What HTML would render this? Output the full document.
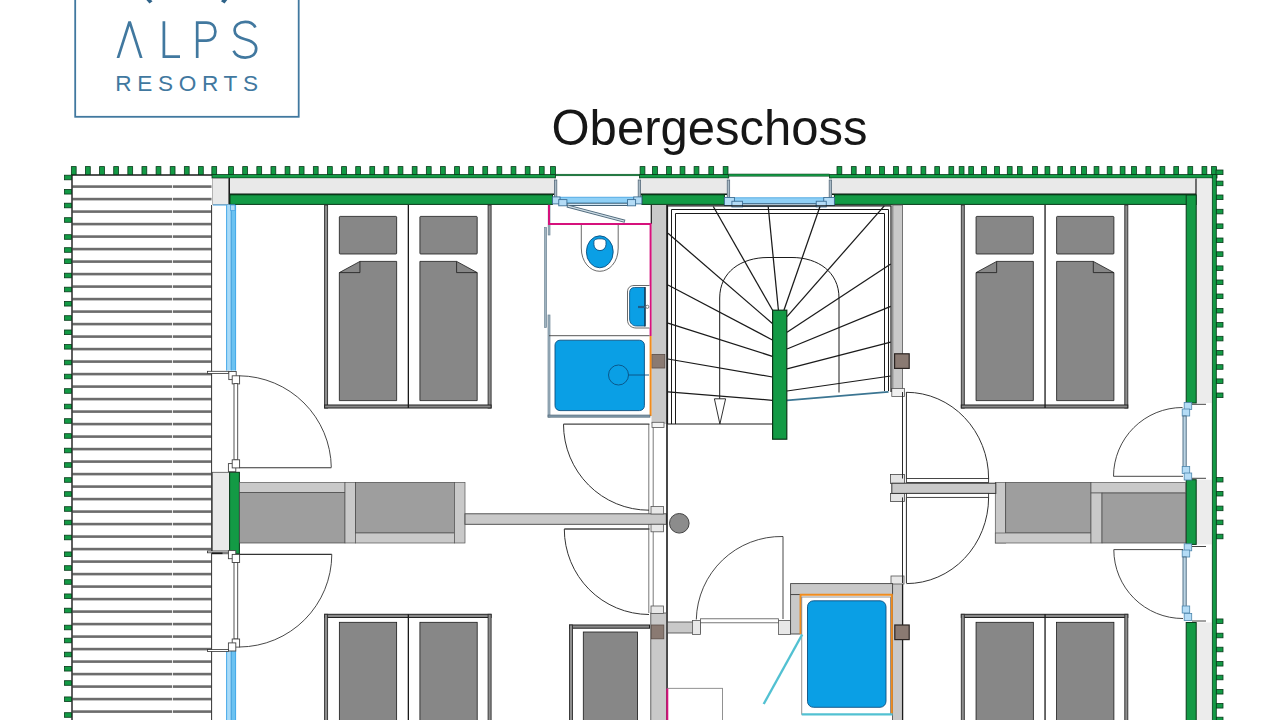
<!DOCTYPE html>
<html><head><meta charset="utf-8"><title>Obergeschoss</title>
<style>
html,body{margin:0;padding:0;background:#fff;}
body{width:1280px;height:720px;overflow:hidden;font-family:"Liberation Sans",sans-serif;}
svg{display:block;}
</style></head><body>
<svg width="1280" height="720" viewBox="0 0 1280 720">
<rect x="0" y="0" width="1280" height="720" fill="#ffffff"/>
<rect x="72.50" y="185.30" width="139.00" height="2.60" fill="#6c6c6c" stroke="none" stroke-width="1" />
<rect x="72.50" y="197.80" width="139.00" height="2.60" fill="#6c6c6c" stroke="none" stroke-width="1" />
<rect x="72.50" y="210.30" width="139.00" height="2.60" fill="#6c6c6c" stroke="none" stroke-width="1" />
<rect x="72.50" y="222.80" width="139.00" height="2.60" fill="#6c6c6c" stroke="none" stroke-width="1" />
<rect x="72.50" y="235.30" width="139.00" height="2.60" fill="#6c6c6c" stroke="none" stroke-width="1" />
<rect x="72.50" y="247.80" width="139.00" height="2.60" fill="#6c6c6c" stroke="none" stroke-width="1" />
<rect x="72.50" y="260.30" width="139.00" height="2.60" fill="#6c6c6c" stroke="none" stroke-width="1" />
<rect x="72.50" y="272.80" width="139.00" height="2.60" fill="#6c6c6c" stroke="none" stroke-width="1" />
<rect x="72.50" y="285.30" width="139.00" height="2.60" fill="#6c6c6c" stroke="none" stroke-width="1" />
<rect x="72.50" y="297.80" width="139.00" height="2.60" fill="#6c6c6c" stroke="none" stroke-width="1" />
<rect x="72.50" y="310.30" width="139.00" height="2.60" fill="#6c6c6c" stroke="none" stroke-width="1" />
<rect x="72.50" y="322.80" width="139.00" height="2.60" fill="#6c6c6c" stroke="none" stroke-width="1" />
<rect x="72.50" y="335.30" width="139.00" height="2.60" fill="#6c6c6c" stroke="none" stroke-width="1" />
<rect x="72.50" y="347.80" width="139.00" height="2.60" fill="#6c6c6c" stroke="none" stroke-width="1" />
<rect x="72.50" y="360.30" width="139.00" height="2.60" fill="#6c6c6c" stroke="none" stroke-width="1" />
<rect x="72.50" y="372.80" width="139.00" height="2.60" fill="#6c6c6c" stroke="none" stroke-width="1" />
<rect x="72.50" y="385.30" width="139.00" height="2.60" fill="#6c6c6c" stroke="none" stroke-width="1" />
<rect x="72.50" y="397.80" width="139.00" height="2.60" fill="#6c6c6c" stroke="none" stroke-width="1" />
<rect x="72.50" y="410.30" width="139.00" height="2.60" fill="#6c6c6c" stroke="none" stroke-width="1" />
<rect x="72.50" y="422.80" width="139.00" height="2.60" fill="#6c6c6c" stroke="none" stroke-width="1" />
<rect x="72.50" y="435.30" width="139.00" height="2.60" fill="#6c6c6c" stroke="none" stroke-width="1" />
<rect x="72.50" y="447.80" width="139.00" height="2.60" fill="#6c6c6c" stroke="none" stroke-width="1" />
<rect x="72.50" y="460.30" width="139.00" height="2.60" fill="#6c6c6c" stroke="none" stroke-width="1" />
<rect x="72.50" y="472.80" width="139.00" height="2.60" fill="#6c6c6c" stroke="none" stroke-width="1" />
<rect x="72.50" y="485.30" width="139.00" height="2.60" fill="#6c6c6c" stroke="none" stroke-width="1" />
<rect x="72.50" y="497.80" width="139.00" height="2.60" fill="#6c6c6c" stroke="none" stroke-width="1" />
<rect x="72.50" y="510.30" width="139.00" height="2.60" fill="#6c6c6c" stroke="none" stroke-width="1" />
<rect x="72.50" y="522.80" width="139.00" height="2.60" fill="#6c6c6c" stroke="none" stroke-width="1" />
<rect x="72.50" y="535.30" width="139.00" height="2.60" fill="#6c6c6c" stroke="none" stroke-width="1" />
<rect x="72.50" y="547.80" width="139.00" height="2.60" fill="#6c6c6c" stroke="none" stroke-width="1" />
<rect x="72.50" y="560.30" width="139.00" height="2.60" fill="#6c6c6c" stroke="none" stroke-width="1" />
<rect x="72.50" y="572.80" width="139.00" height="2.60" fill="#6c6c6c" stroke="none" stroke-width="1" />
<rect x="72.50" y="585.30" width="139.00" height="2.60" fill="#6c6c6c" stroke="none" stroke-width="1" />
<rect x="72.50" y="597.80" width="139.00" height="2.60" fill="#6c6c6c" stroke="none" stroke-width="1" />
<rect x="72.50" y="610.30" width="139.00" height="2.60" fill="#6c6c6c" stroke="none" stroke-width="1" />
<rect x="72.50" y="622.80" width="139.00" height="2.60" fill="#6c6c6c" stroke="none" stroke-width="1" />
<rect x="72.50" y="635.30" width="139.00" height="2.60" fill="#6c6c6c" stroke="none" stroke-width="1" />
<rect x="72.50" y="647.80" width="139.00" height="2.60" fill="#6c6c6c" stroke="none" stroke-width="1" />
<rect x="72.50" y="660.30" width="139.00" height="2.60" fill="#6c6c6c" stroke="none" stroke-width="1" />
<rect x="72.50" y="672.80" width="139.00" height="2.60" fill="#6c6c6c" stroke="none" stroke-width="1" />
<rect x="72.50" y="685.30" width="139.00" height="2.60" fill="#6c6c6c" stroke="none" stroke-width="1" />
<rect x="72.50" y="697.80" width="139.00" height="2.60" fill="#6c6c6c" stroke="none" stroke-width="1" />
<rect x="72.50" y="710.30" width="139.00" height="2.60" fill="#6c6c6c" stroke="none" stroke-width="1" />
<line x1="172.50" y1="178.00" x2="172.50" y2="720.00" stroke="#ffffff" stroke-width="0.8" />
<line x1="72.00" y1="174.00" x2="72.00" y2="720.00" stroke="#1a1a1a" stroke-width="1.4" />
<line x1="72.00" y1="175.00" x2="212.00" y2="175.00" stroke="#1a1a1a" stroke-width="1.4" />
<line x1="211.60" y1="205.00" x2="211.60" y2="720.00" stroke="#333" stroke-width="1" />
<rect x="64.50" y="175.20" width="7.00" height="4.60" fill="#139a45" stroke="#083a19" stroke-width="0.8" />
<rect x="64.50" y="189.45" width="7.00" height="4.60" fill="#139a45" stroke="#083a19" stroke-width="0.8" />
<rect x="64.50" y="203.20" width="7.00" height="4.60" fill="#139a45" stroke="#083a19" stroke-width="0.8" />
<rect x="64.50" y="217.70" width="7.00" height="4.60" fill="#139a45" stroke="#083a19" stroke-width="0.8" />
<rect x="64.50" y="234.70" width="7.00" height="4.60" fill="#139a45" stroke="#083a19" stroke-width="0.8" />
<rect x="64.50" y="247.70" width="7.00" height="4.60" fill="#139a45" stroke="#083a19" stroke-width="0.8" />
<rect x="64.50" y="258.95" width="7.00" height="4.60" fill="#139a45" stroke="#083a19" stroke-width="0.8" />
<rect x="64.50" y="273.20" width="7.00" height="4.60" fill="#139a45" stroke="#083a19" stroke-width="0.8" />
<rect x="64.50" y="287.20" width="7.00" height="4.60" fill="#139a45" stroke="#083a19" stroke-width="0.8" />
<rect x="64.50" y="301.45" width="7.00" height="4.60" fill="#139a45" stroke="#083a19" stroke-width="0.8" />
<rect x="64.50" y="315.70" width="7.00" height="4.60" fill="#139a45" stroke="#083a19" stroke-width="0.8" />
<rect x="64.50" y="330.00" width="7.00" height="4.60" fill="#139a45" stroke="#083a19" stroke-width="0.8" />
<rect x="64.50" y="344.50" width="7.00" height="4.60" fill="#139a45" stroke="#083a19" stroke-width="0.8" />
<rect x="64.50" y="360.20" width="7.00" height="4.60" fill="#139a45" stroke="#083a19" stroke-width="0.8" />
<rect x="64.50" y="374.20" width="7.00" height="4.60" fill="#139a45" stroke="#083a19" stroke-width="0.8" />
<rect x="64.50" y="388.70" width="7.00" height="4.60" fill="#139a45" stroke="#083a19" stroke-width="0.8" />
<rect x="64.50" y="404.20" width="7.00" height="4.60" fill="#139a45" stroke="#083a19" stroke-width="0.8" />
<rect x="64.50" y="418.70" width="7.00" height="4.60" fill="#139a45" stroke="#083a19" stroke-width="0.8" />
<rect x="64.50" y="433.70" width="7.00" height="4.60" fill="#139a45" stroke="#083a19" stroke-width="0.8" />
<rect x="64.50" y="448.20" width="7.00" height="4.60" fill="#139a45" stroke="#083a19" stroke-width="0.8" />
<rect x="64.50" y="462.70" width="7.00" height="4.60" fill="#139a45" stroke="#083a19" stroke-width="0.8" />
<rect x="64.50" y="477.70" width="7.00" height="4.60" fill="#139a45" stroke="#083a19" stroke-width="0.8" />
<rect x="64.50" y="491.70" width="7.00" height="4.60" fill="#139a45" stroke="#083a19" stroke-width="0.8" />
<rect x="64.50" y="506.70" width="7.00" height="4.60" fill="#139a45" stroke="#083a19" stroke-width="0.8" />
<rect x="64.50" y="520.20" width="7.00" height="4.60" fill="#139a45" stroke="#083a19" stroke-width="0.8" />
<rect x="64.50" y="535.20" width="7.00" height="4.60" fill="#139a45" stroke="#083a19" stroke-width="0.8" />
<rect x="64.50" y="551.95" width="7.00" height="4.60" fill="#139a45" stroke="#083a19" stroke-width="0.8" />
<rect x="64.50" y="565.70" width="7.00" height="4.60" fill="#139a45" stroke="#083a19" stroke-width="0.8" />
<rect x="64.50" y="579.70" width="7.00" height="4.60" fill="#139a45" stroke="#083a19" stroke-width="0.8" />
<rect x="64.50" y="593.95" width="7.00" height="4.60" fill="#139a45" stroke="#083a19" stroke-width="0.8" />
<rect x="64.50" y="608.20" width="7.00" height="4.60" fill="#139a45" stroke="#083a19" stroke-width="0.8" />
<rect x="64.50" y="625.20" width="7.00" height="4.60" fill="#139a45" stroke="#083a19" stroke-width="0.8" />
<rect x="64.50" y="638.20" width="7.00" height="4.60" fill="#139a45" stroke="#083a19" stroke-width="0.8" />
<rect x="64.50" y="652.20" width="7.00" height="4.60" fill="#139a45" stroke="#083a19" stroke-width="0.8" />
<rect x="64.50" y="666.45" width="7.00" height="4.60" fill="#139a45" stroke="#083a19" stroke-width="0.8" />
<rect x="64.50" y="680.70" width="7.00" height="4.60" fill="#139a45" stroke="#083a19" stroke-width="0.8" />
<rect x="64.50" y="696.95" width="7.00" height="4.60" fill="#139a45" stroke="#083a19" stroke-width="0.8" />
<rect x="64.50" y="712.70" width="7.00" height="4.60" fill="#139a45" stroke="#083a19" stroke-width="0.8" />
<rect x="71.35" y="166.60" width="4.80" height="8.00" fill="#139a45" stroke="#083a19" stroke-width="0.8" />
<rect x="85.47" y="166.60" width="4.80" height="8.00" fill="#139a45" stroke="#083a19" stroke-width="0.8" />
<rect x="99.60" y="166.60" width="4.80" height="8.00" fill="#139a45" stroke="#083a19" stroke-width="0.8" />
<rect x="113.72" y="166.60" width="4.80" height="8.00" fill="#139a45" stroke="#083a19" stroke-width="0.8" />
<rect x="127.85" y="166.60" width="4.80" height="8.00" fill="#139a45" stroke="#083a19" stroke-width="0.8" />
<rect x="141.97" y="166.60" width="4.80" height="8.00" fill="#139a45" stroke="#083a19" stroke-width="0.8" />
<rect x="156.10" y="166.60" width="4.80" height="8.00" fill="#139a45" stroke="#083a19" stroke-width="0.8" />
<rect x="170.22" y="166.60" width="4.80" height="8.00" fill="#139a45" stroke="#083a19" stroke-width="0.8" />
<rect x="184.35" y="166.60" width="4.80" height="8.00" fill="#139a45" stroke="#083a19" stroke-width="0.8" />
<rect x="198.47" y="166.60" width="4.80" height="8.00" fill="#139a45" stroke="#083a19" stroke-width="0.8" />
<rect x="211.85" y="166.60" width="4.80" height="8.00" fill="#139a45" stroke="#083a19" stroke-width="0.8" />
<rect x="228.60" y="166.60" width="4.80" height="8.00" fill="#139a45" stroke="#083a19" stroke-width="0.8" />
<rect x="242.72" y="166.60" width="4.80" height="8.00" fill="#139a45" stroke="#083a19" stroke-width="0.8" />
<rect x="256.85" y="166.60" width="4.80" height="8.00" fill="#139a45" stroke="#083a19" stroke-width="0.8" />
<rect x="270.98" y="166.60" width="4.80" height="8.00" fill="#139a45" stroke="#083a19" stroke-width="0.8" />
<rect x="285.10" y="166.60" width="4.80" height="8.00" fill="#139a45" stroke="#083a19" stroke-width="0.8" />
<rect x="299.23" y="166.60" width="4.80" height="8.00" fill="#139a45" stroke="#083a19" stroke-width="0.8" />
<rect x="313.35" y="166.60" width="4.80" height="8.00" fill="#139a45" stroke="#083a19" stroke-width="0.8" />
<rect x="327.48" y="166.60" width="4.80" height="8.00" fill="#139a45" stroke="#083a19" stroke-width="0.8" />
<rect x="341.60" y="166.60" width="4.80" height="8.00" fill="#139a45" stroke="#083a19" stroke-width="0.8" />
<rect x="355.73" y="166.60" width="4.80" height="8.00" fill="#139a45" stroke="#083a19" stroke-width="0.8" />
<rect x="369.85" y="166.60" width="4.80" height="8.00" fill="#139a45" stroke="#083a19" stroke-width="0.8" />
<rect x="383.98" y="166.60" width="4.80" height="8.00" fill="#139a45" stroke="#083a19" stroke-width="0.8" />
<rect x="398.10" y="166.60" width="4.80" height="8.00" fill="#139a45" stroke="#083a19" stroke-width="0.8" />
<rect x="412.23" y="166.60" width="4.80" height="8.00" fill="#139a45" stroke="#083a19" stroke-width="0.8" />
<rect x="426.35" y="166.60" width="4.80" height="8.00" fill="#139a45" stroke="#083a19" stroke-width="0.8" />
<rect x="440.48" y="166.60" width="4.80" height="8.00" fill="#139a45" stroke="#083a19" stroke-width="0.8" />
<rect x="454.60" y="166.60" width="4.80" height="8.00" fill="#139a45" stroke="#083a19" stroke-width="0.8" />
<rect x="468.73" y="166.60" width="4.80" height="8.00" fill="#139a45" stroke="#083a19" stroke-width="0.8" />
<rect x="482.85" y="166.60" width="4.80" height="8.00" fill="#139a45" stroke="#083a19" stroke-width="0.8" />
<rect x="496.98" y="166.60" width="4.80" height="8.00" fill="#139a45" stroke="#083a19" stroke-width="0.8" />
<rect x="511.10" y="166.60" width="4.80" height="8.00" fill="#139a45" stroke="#083a19" stroke-width="0.8" />
<rect x="525.23" y="166.60" width="4.80" height="8.00" fill="#139a45" stroke="#083a19" stroke-width="0.8" />
<rect x="539.35" y="166.60" width="4.80" height="8.00" fill="#139a45" stroke="#083a19" stroke-width="0.8" />
<rect x="550.60" y="166.60" width="4.80" height="8.00" fill="#139a45" stroke="#083a19" stroke-width="0.8" />
<rect x="640.10" y="166.60" width="4.80" height="8.00" fill="#139a45" stroke="#083a19" stroke-width="0.8" />
<rect x="652.60" y="166.60" width="4.80" height="8.00" fill="#139a45" stroke="#083a19" stroke-width="0.8" />
<rect x="666.60" y="166.60" width="4.80" height="8.00" fill="#139a45" stroke="#083a19" stroke-width="0.8" />
<rect x="680.10" y="166.60" width="4.80" height="8.00" fill="#139a45" stroke="#083a19" stroke-width="0.8" />
<rect x="694.10" y="166.60" width="4.80" height="8.00" fill="#139a45" stroke="#083a19" stroke-width="0.8" />
<rect x="708.85" y="166.60" width="4.80" height="8.00" fill="#139a45" stroke="#083a19" stroke-width="0.8" />
<rect x="723.20" y="166.60" width="4.80" height="8.00" fill="#139a45" stroke="#083a19" stroke-width="0.8" />
<rect x="837.00" y="166.60" width="4.80" height="8.00" fill="#139a45" stroke="#083a19" stroke-width="0.8" />
<rect x="851.35" y="166.60" width="4.80" height="8.00" fill="#139a45" stroke="#083a19" stroke-width="0.8" />
<rect x="865.60" y="166.60" width="4.80" height="8.00" fill="#139a45" stroke="#083a19" stroke-width="0.8" />
<rect x="879.60" y="166.60" width="4.80" height="8.00" fill="#139a45" stroke="#083a19" stroke-width="0.8" />
<rect x="893.60" y="166.60" width="4.80" height="8.00" fill="#139a45" stroke="#083a19" stroke-width="0.8" />
<rect x="906.90" y="166.60" width="4.80" height="8.00" fill="#139a45" stroke="#083a19" stroke-width="0.8" />
<rect x="921.00" y="166.60" width="4.80" height="8.00" fill="#139a45" stroke="#083a19" stroke-width="0.8" />
<rect x="934.80" y="166.60" width="4.80" height="8.00" fill="#139a45" stroke="#083a19" stroke-width="0.8" />
<rect x="948.90" y="166.60" width="4.80" height="8.00" fill="#139a45" stroke="#083a19" stroke-width="0.8" />
<rect x="959.20" y="166.60" width="4.80" height="8.00" fill="#139a45" stroke="#083a19" stroke-width="0.8" />
<rect x="968.80" y="166.60" width="4.80" height="8.00" fill="#139a45" stroke="#083a19" stroke-width="0.8" />
<rect x="981.60" y="166.60" width="4.80" height="8.00" fill="#139a45" stroke="#083a19" stroke-width="0.8" />
<rect x="994.60" y="166.60" width="4.80" height="8.00" fill="#139a45" stroke="#083a19" stroke-width="0.8" />
<rect x="1007.30" y="166.60" width="4.80" height="8.00" fill="#139a45" stroke="#083a19" stroke-width="0.8" />
<rect x="1017.40" y="166.60" width="4.80" height="8.00" fill="#139a45" stroke="#083a19" stroke-width="0.8" />
<rect x="1032.60" y="166.60" width="4.80" height="8.00" fill="#139a45" stroke="#083a19" stroke-width="0.8" />
<rect x="1045.00" y="166.60" width="4.80" height="8.00" fill="#139a45" stroke="#083a19" stroke-width="0.8" />
<rect x="1057.80" y="166.60" width="4.80" height="8.00" fill="#139a45" stroke="#083a19" stroke-width="0.8" />
<rect x="1070.80" y="166.60" width="4.80" height="8.00" fill="#139a45" stroke="#083a19" stroke-width="0.8" />
<rect x="1081.60" y="166.60" width="4.80" height="8.00" fill="#139a45" stroke="#083a19" stroke-width="0.8" />
<rect x="1094.10" y="166.60" width="4.80" height="8.00" fill="#139a45" stroke="#083a19" stroke-width="0.8" />
<rect x="1107.20" y="166.60" width="4.80" height="8.00" fill="#139a45" stroke="#083a19" stroke-width="0.8" />
<rect x="1120.20" y="166.60" width="4.80" height="8.00" fill="#139a45" stroke="#083a19" stroke-width="0.8" />
<rect x="1131.60" y="166.60" width="4.80" height="8.00" fill="#139a45" stroke="#083a19" stroke-width="0.8" />
<rect x="1145.90" y="166.60" width="4.80" height="8.00" fill="#139a45" stroke="#083a19" stroke-width="0.8" />
<rect x="1160.00" y="166.60" width="4.80" height="8.00" fill="#139a45" stroke="#083a19" stroke-width="0.8" />
<rect x="1173.80" y="166.60" width="4.80" height="8.00" fill="#139a45" stroke="#083a19" stroke-width="0.8" />
<rect x="1187.90" y="166.60" width="4.80" height="8.00" fill="#139a45" stroke="#083a19" stroke-width="0.8" />
<rect x="1202.00" y="166.60" width="4.80" height="8.00" fill="#139a45" stroke="#083a19" stroke-width="0.8" />
<rect x="1211.60" y="166.60" width="4.80" height="8.00" fill="#139a45" stroke="#083a19" stroke-width="0.8" />
<rect x="1216.00" y="170.00" width="7.00" height="4.60" fill="#139a45" stroke="#083a19" stroke-width="0.8" />
<rect x="1216.00" y="181.10" width="7.00" height="4.60" fill="#139a45" stroke="#083a19" stroke-width="0.8" />
<rect x="1216.00" y="195.00" width="7.00" height="4.60" fill="#139a45" stroke="#083a19" stroke-width="0.8" />
<rect x="1216.00" y="209.30" width="7.00" height="4.60" fill="#139a45" stroke="#083a19" stroke-width="0.8" />
<rect x="1216.00" y="223.90" width="7.00" height="4.60" fill="#139a45" stroke="#083a19" stroke-width="0.8" />
<rect x="1216.00" y="238.00" width="7.00" height="4.60" fill="#139a45" stroke="#083a19" stroke-width="0.8" />
<rect x="1216.00" y="251.80" width="7.00" height="4.60" fill="#139a45" stroke="#083a19" stroke-width="0.8" />
<rect x="1216.00" y="265.90" width="7.00" height="4.60" fill="#139a45" stroke="#083a19" stroke-width="0.8" />
<rect x="1216.00" y="280.00" width="7.00" height="4.60" fill="#139a45" stroke="#083a19" stroke-width="0.8" />
<rect x="1216.00" y="294.00" width="7.00" height="4.60" fill="#139a45" stroke="#083a19" stroke-width="0.8" />
<rect x="1216.00" y="308.40" width="7.00" height="4.60" fill="#139a45" stroke="#083a19" stroke-width="0.8" />
<rect x="1216.00" y="322.50" width="7.00" height="4.60" fill="#139a45" stroke="#083a19" stroke-width="0.8" />
<rect x="1216.00" y="336.30" width="7.00" height="4.60" fill="#139a45" stroke="#083a19" stroke-width="0.8" />
<rect x="1216.00" y="350.50" width="7.00" height="4.60" fill="#139a45" stroke="#083a19" stroke-width="0.8" />
<rect x="1216.00" y="364.70" width="7.00" height="4.60" fill="#139a45" stroke="#083a19" stroke-width="0.8" />
<rect x="1216.00" y="378.90" width="7.00" height="4.60" fill="#139a45" stroke="#083a19" stroke-width="0.8" />
<rect x="1216.00" y="393.00" width="7.00" height="4.60" fill="#139a45" stroke="#083a19" stroke-width="0.8" />
<rect x="1216.00" y="477.40" width="7.00" height="4.60" fill="#139a45" stroke="#083a19" stroke-width="0.8" />
<rect x="1216.00" y="491.40" width="7.00" height="4.60" fill="#139a45" stroke="#083a19" stroke-width="0.8" />
<rect x="1216.00" y="506.10" width="7.00" height="4.60" fill="#139a45" stroke="#083a19" stroke-width="0.8" />
<rect x="1216.00" y="520.10" width="7.00" height="4.60" fill="#139a45" stroke="#083a19" stroke-width="0.8" />
<rect x="1216.00" y="534.20" width="7.00" height="4.60" fill="#139a45" stroke="#083a19" stroke-width="0.8" />
<rect x="1216.00" y="618.95" width="7.00" height="4.60" fill="#139a45" stroke="#083a19" stroke-width="0.8" />
<rect x="1216.00" y="633.20" width="7.00" height="4.60" fill="#139a45" stroke="#083a19" stroke-width="0.8" />
<rect x="1216.00" y="647.20" width="7.00" height="4.60" fill="#139a45" stroke="#083a19" stroke-width="0.8" />
<rect x="1216.00" y="661.45" width="7.00" height="4.60" fill="#139a45" stroke="#083a19" stroke-width="0.8" />
<rect x="1216.00" y="675.20" width="7.00" height="4.60" fill="#139a45" stroke="#083a19" stroke-width="0.8" />
<rect x="1216.00" y="689.45" width="7.00" height="4.60" fill="#139a45" stroke="#083a19" stroke-width="0.8" />
<rect x="1216.00" y="703.45" width="7.00" height="4.60" fill="#139a45" stroke="#083a19" stroke-width="0.8" />
<rect x="1216.00" y="717.20" width="7.00" height="4.60" fill="#139a45" stroke="#083a19" stroke-width="0.8" />
<rect x="212.00" y="174.60" width="343.50" height="3.40" fill="#139a45" stroke="#083a19" stroke-width="0.8" />
<rect x="639.50" y="174.60" width="89.25" height="3.40" fill="#139a45" stroke="#083a19" stroke-width="0.8" />
<rect x="829.40" y="174.60" width="387.60" height="3.40" fill="#139a45" stroke="#083a19" stroke-width="0.8" />
<rect x="555.50" y="174.20" width="84.00" height="1.60" fill="#139a45" stroke="#083a19" stroke-width="0.5" />
<rect x="728.75" y="174.00" width="100.60" height="2.20" fill="#139a45" stroke="#083a19" stroke-width="0.5" />
<rect x="212.50" y="178.50" width="16.00" height="26.00" fill="#e9e9e9" stroke="#888" stroke-width="0.6" />
<rect x="230.00" y="178.50" width="324.40" height="15.50" fill="#e9e9e9" stroke="none" stroke-width="1" />
<line x1="230.00" y1="194.30" x2="554.40" y2="194.30" stroke="#0a1a0f" stroke-width="1.6" />
<rect x="640.60" y="178.50" width="86.40" height="15.50" fill="#e9e9e9" stroke="none" stroke-width="1" />
<line x1="640.60" y1="194.30" x2="727.00" y2="194.30" stroke="#0a1a0f" stroke-width="1.6" />
<rect x="832.00" y="178.50" width="364.00" height="15.50" fill="#e9e9e9" stroke="none" stroke-width="1" />
<line x1="832.00" y1="194.30" x2="1196.00" y2="194.30" stroke="#0a1a0f" stroke-width="1.6" />
<line x1="229.30" y1="178.00" x2="229.30" y2="204.50" stroke="#1a1a1a" stroke-width="1.4" />
<rect x="230.00" y="194.80" width="322.50" height="9.60" fill="#139a45" stroke="#083a19" stroke-width="1" />
<rect x="641.90" y="194.80" width="82.50" height="9.60" fill="#139a45" stroke="#083a19" stroke-width="1" />
<rect x="834.40" y="194.80" width="361.60" height="9.60" fill="#139a45" stroke="#083a19" stroke-width="1" />
<rect x="1196.30" y="178.50" width="15.30" height="224.50" fill="#ececec" stroke="none" stroke-width="1" />
<rect x="1196.30" y="479.70" width="15.30" height="64.70" fill="#ececec" stroke="none" stroke-width="1" />
<rect x="1196.30" y="622.50" width="15.30" height="102.50" fill="#ececec" stroke="none" stroke-width="1" />
<line x1="1196.00" y1="178.50" x2="1196.00" y2="205.00" stroke="#1a1a1a" stroke-width="1.2" />
<rect x="1212.30" y="174.60" width="4.00" height="550.00" fill="#139a45" stroke="#083a19" stroke-width="0.8" />
<rect x="1186.20" y="195.00" width="10.00" height="208.00" fill="#139a45" stroke="#083a19" stroke-width="1" />
<rect x="1186.20" y="479.70" width="10.00" height="64.70" fill="#139a45" stroke="#083a19" stroke-width="1" />
<rect x="1186.20" y="622.50" width="10.00" height="102.50" fill="#139a45" stroke="#083a19" stroke-width="1" />
<rect x="554.40" y="180.00" width="2.40" height="17.50" fill="#a9bac6" stroke="#55697a" stroke-width="0.8" />
<rect x="638.20" y="180.00" width="2.40" height="17.50" fill="#a9bac6" stroke="#55697a" stroke-width="0.8" />
<rect x="560.00" y="197.20" width="73.75" height="6.00" fill="#8fd0f6" stroke="#3f9fe0" stroke-width="0.8" />
<rect x="566.90" y="203.20" width="60.60" height="2.30" fill="#d4e9f6" stroke="#33536b" stroke-width="0.9" />
<rect x="552.50" y="196.90" width="7.50" height="7.00" fill="#b4dcf6" stroke="#3d6f95" stroke-width="0.9" />
<rect x="633.75" y="196.90" width="8.15" height="7.00" fill="#b4dcf6" stroke="#3d6f95" stroke-width="0.9" />
<rect x="558.75" y="199.60" width="8.15" height="6.20" fill="#b4dcf6" stroke="#3d6f95" stroke-width="0.9" />
<rect x="627.50" y="199.60" width="8.10" height="6.20" fill="#b4dcf6" stroke="#3d6f95" stroke-width="0.9" />
<rect x="727.25" y="180.00" width="2.40" height="17.50" fill="#a9bac6" stroke="#55697a" stroke-width="0.8" />
<rect x="829.20" y="180.00" width="2.40" height="17.50" fill="#a9bac6" stroke="#55697a" stroke-width="0.8" />
<rect x="734.40" y="197.80" width="89.35" height="6.00" fill="#8fd0f6" stroke="#3f9fe0" stroke-width="0.8" />
<rect x="742.50" y="203.80" width="73.75" height="2.80" fill="#d4e9f6" stroke="#33536b" stroke-width="0.9" />
<rect x="724.40" y="197.50" width="10.00" height="8.10" fill="#b4dcf6" stroke="#3d6f95" stroke-width="0.9" />
<rect x="823.75" y="197.50" width="10.65" height="8.10" fill="#b4dcf6" stroke="#3d6f95" stroke-width="0.9" />
<rect x="731.90" y="201.25" width="10.60" height="5.65" fill="#b4dcf6" stroke="#3d6f95" stroke-width="0.9" />
<rect x="816.25" y="201.25" width="10.00" height="5.65" fill="#b4dcf6" stroke="#3d6f95" stroke-width="0.9" />
<line x1="567.00" y1="206.00" x2="625.00" y2="221.30" stroke="#4f6a7c" stroke-width="3.2" />
<line x1="567.80" y1="206.20" x2="624.30" y2="221.10" stroke="#cfdde6" stroke-width="1.3" />
<line x1="213.00" y1="205.00" x2="235.00" y2="205.00" stroke="#3f9fe0" stroke-width="1" />
<rect x="226.40" y="205.00" width="4.80" height="165.50" fill="#a9dbf8" stroke="none" stroke-width="1" />
<rect x="231.20" y="205.00" width="4.60" height="165.50" fill="#6cc2f1" stroke="none" stroke-width="1" />
<line x1="226.60" y1="205.00" x2="226.60" y2="370.50" stroke="#3aa3e6" stroke-width="0.9" />
<line x1="235.60" y1="205.00" x2="235.60" y2="370.50" stroke="#3aa3e6" stroke-width="0.9" />
<line x1="231.20" y1="205.00" x2="231.20" y2="370.50" stroke="#2f93d6" stroke-width="0.9" />
<rect x="226.40" y="651.00" width="4.80" height="71.00" fill="#a9dbf8" stroke="none" stroke-width="1" />
<rect x="231.20" y="651.00" width="4.60" height="71.00" fill="#6cc2f1" stroke="none" stroke-width="1" />
<line x1="226.60" y1="651.00" x2="226.60" y2="722.00" stroke="#3aa3e6" stroke-width="0.9" />
<line x1="235.60" y1="651.00" x2="235.60" y2="722.00" stroke="#3aa3e6" stroke-width="0.9" />
<line x1="231.20" y1="651.00" x2="231.20" y2="722.00" stroke="#2f93d6" stroke-width="0.9" />
<rect x="230.50" y="205.00" width="4.50" height="5.50" fill="#b4dcf6" stroke="#3f9fe0" stroke-width="0.7" />
<rect x="324.60" y="205.00" width="3.00" height="203.00" fill="#8e8e8e" stroke="#2e2e2e" stroke-width="0.9" />
<rect x="488.10" y="205.00" width="3.00" height="203.00" fill="#8e8e8e" stroke="#2e2e2e" stroke-width="0.9" />
<rect x="324.60" y="405.00" width="166.50" height="3.00" fill="#8a8a8a" stroke="#222" stroke-width="1.0" />
<line x1="408.35" y1="205.00" x2="408.35" y2="408.00" stroke="#1a1a1a" stroke-width="1.3" />
<rect x="339.35" y="216.40" width="57.30" height="37.60" fill="#878787" stroke="#1a1a1a" stroke-width="0.8" rx="0.8"/>
<path d="M339.35,272.6 L359.95000000000005,261.4 L396.65000000000003,261.4 L396.65000000000003,400.6 L339.35,400.6 Z" fill="#878787" stroke="#1a1a1a" stroke-width="0.8" />
<path d="M339.35,272.6 L359.95000000000005,272.6 L359.95000000000005,261.4" fill="none" stroke="#1a1a1a" stroke-width="0.8" />
<rect x="419.90" y="216.40" width="57.30" height="37.60" fill="#878787" stroke="#1a1a1a" stroke-width="0.8" rx="0.8"/>
<path d="M419.90000000000003,261.4 L456.6,261.4 L477.20000000000005,272.6 L477.20000000000005,400.6 L419.90000000000003,400.6 Z" fill="#878787" stroke="#1a1a1a" stroke-width="0.8" />
<path d="M456.6,261.4 L456.6,272.6 L477.20000000000005,272.6" fill="none" stroke="#1a1a1a" stroke-width="0.8" />
<rect x="961.30" y="205.00" width="3.00" height="203.00" fill="#8e8e8e" stroke="#2e2e2e" stroke-width="0.9" />
<rect x="1124.80" y="205.00" width="3.00" height="203.00" fill="#8e8e8e" stroke="#2e2e2e" stroke-width="0.9" />
<rect x="961.30" y="405.00" width="166.50" height="3.00" fill="#8a8a8a" stroke="#222" stroke-width="1.0" />
<line x1="1045.05" y1="205.00" x2="1045.05" y2="408.00" stroke="#1a1a1a" stroke-width="1.3" />
<rect x="976.05" y="216.40" width="57.30" height="37.60" fill="#878787" stroke="#1a1a1a" stroke-width="0.8" rx="0.8"/>
<path d="M976.05,272.6 L996.65,261.4 L1033.35,261.4 L1033.35,400.6 L976.05,400.6 Z" fill="#878787" stroke="#1a1a1a" stroke-width="0.8" />
<path d="M976.05,272.6 L996.65,272.6 L996.65,261.4" fill="none" stroke="#1a1a1a" stroke-width="0.8" />
<rect x="1056.60" y="216.40" width="57.30" height="37.60" fill="#878787" stroke="#1a1a1a" stroke-width="0.8" rx="0.8"/>
<path d="M1056.6,261.4 L1093.3,261.4 L1113.8999999999999,272.6 L1113.8999999999999,400.6 L1056.6,400.6 Z" fill="#878787" stroke="#1a1a1a" stroke-width="0.8" />
<path d="M1093.3,261.4 L1093.3,272.6 L1113.8999999999999,272.6" fill="none" stroke="#1a1a1a" stroke-width="0.8" />
<rect x="324.60" y="614.30" width="166.50" height="3.20" fill="#8a8a8a" stroke="#222" stroke-width="1.0" />
<rect x="324.60" y="614.30" width="3.00" height="110.00" fill="#8e8e8e" stroke="#2e2e2e" stroke-width="0.9" />
<rect x="488.10" y="614.30" width="3.00" height="110.00" fill="#8e8e8e" stroke="#2e2e2e" stroke-width="0.9" />
<line x1="408.35" y1="614.30" x2="408.35" y2="722.00" stroke="#1a1a1a" stroke-width="1.3" />
<rect x="339.35" y="622.30" width="57.30" height="110.00" fill="#878787" stroke="#1a1a1a" stroke-width="0.8" />
<rect x="419.90" y="622.30" width="57.30" height="110.00" fill="#878787" stroke="#1a1a1a" stroke-width="0.8" />
<rect x="961.30" y="614.30" width="166.50" height="3.20" fill="#8a8a8a" stroke="#222" stroke-width="1.0" />
<rect x="961.30" y="614.30" width="3.00" height="110.00" fill="#8e8e8e" stroke="#2e2e2e" stroke-width="0.9" />
<rect x="1124.80" y="614.30" width="3.00" height="110.00" fill="#8e8e8e" stroke="#2e2e2e" stroke-width="0.9" />
<line x1="1045.05" y1="614.30" x2="1045.05" y2="722.00" stroke="#1a1a1a" stroke-width="1.3" />
<rect x="976.05" y="622.30" width="57.30" height="110.00" fill="#878787" stroke="#1a1a1a" stroke-width="0.8" />
<rect x="1056.60" y="622.30" width="57.30" height="110.00" fill="#878787" stroke="#1a1a1a" stroke-width="0.8" />
<rect x="569.50" y="625.00" width="80.00" height="3.20" fill="#8a8a8a" stroke="#222" stroke-width="1.0" />
<rect x="569.50" y="625.00" width="3.00" height="100.00" fill="#8e8e8e" stroke="#2e2e2e" stroke-width="0.9" />
<rect x="583.30" y="632.00" width="54.30" height="100.00" fill="#878787" stroke="#1a1a1a" stroke-width="0.8" />
<rect x="212.50" y="472.30" width="17.00" height="81.50" fill="#e9e9e9" stroke="#555" stroke-width="0.8" />
<rect x="229.60" y="472.30" width="9.80" height="81.50" fill="#139a45" stroke="#083a19" stroke-width="1" />
<rect x="239.50" y="482.50" width="105.50" height="10.00" fill="#c9c9c9" stroke="#555" stroke-width="0.7" />
<rect x="239.50" y="492.50" width="105.50" height="50.50" fill="#9e9e9e" stroke="#444" stroke-width="0.7" />
<rect x="345.00" y="482.50" width="10.50" height="60.50" fill="#c9c9c9" stroke="#555" stroke-width="0.7" />
<rect x="355.50" y="482.50" width="99.00" height="50.50" fill="#9e9e9e" stroke="#444" stroke-width="0.7" />
<rect x="355.50" y="533.00" width="99.00" height="10.00" fill="#c9c9c9" stroke="#555" stroke-width="0.7" />
<rect x="454.50" y="482.50" width="10.50" height="60.50" fill="#c9c9c9" stroke="#555" stroke-width="0.7" />
<rect x="465.00" y="513.80" width="201.30" height="10.50" fill="#c9c9c9" stroke="#444" stroke-width="0.9" />
<rect x="995.30" y="482.50" width="10.40" height="60.50" fill="#c9c9c9" stroke="#555" stroke-width="0.7" />
<rect x="1005.70" y="482.50" width="85.30" height="50.50" fill="#9e9e9e" stroke="#444" stroke-width="0.7" />
<rect x="995.30" y="533.00" width="95.70" height="10.00" fill="#c9c9c9" stroke="#555" stroke-width="0.7" />
<rect x="1091.00" y="482.50" width="94.50" height="10.50" fill="#c9c9c9" stroke="#555" stroke-width="0.7" />
<rect x="1091.00" y="493.00" width="11.00" height="50.00" fill="#c9c9c9" stroke="#555" stroke-width="0.7" />
<rect x="1102.00" y="493.00" width="83.70" height="50.00" fill="#9e9e9e" stroke="#444" stroke-width="0.7" />
<rect x="890.40" y="474.50" width="14.00" height="9.00" fill="#e4e4e4" stroke="#444" stroke-width="0.8" />
<rect x="890.40" y="493.40" width="14.00" height="8.00" fill="#e4e4e4" stroke="#444" stroke-width="0.8" />
<rect x="891.80" y="483.20" width="104.00" height="10.20" fill="#c9c9c9" stroke="#333" stroke-width="1.0" />
<rect x="651.50" y="205.00" width="15.00" height="219.00" fill="#c9c9c9" stroke="none" stroke-width="1" />
<line x1="651.30" y1="205.00" x2="651.30" y2="224.00" stroke="#1a1a1a" stroke-width="1.2" />
<line x1="667.00" y1="205.00" x2="667.00" y2="722.00" stroke="#1a1a1a" stroke-width="1.6" />
<rect x="650.80" y="613.00" width="15.60" height="110.00" fill="#c9c9c9" stroke="#444" stroke-width="0.8" />
<line x1="648.80" y1="424.00" x2="648.80" y2="513.80" stroke="#555" stroke-width="0.8" />
<line x1="653.20" y1="424.00" x2="653.20" y2="513.80" stroke="#555" stroke-width="0.8" />
<line x1="648.80" y1="524.30" x2="648.80" y2="613.00" stroke="#555" stroke-width="0.8" />
<line x1="653.20" y1="524.30" x2="653.20" y2="613.00" stroke="#555" stroke-width="0.8" />
<rect x="652.00" y="422.30" width="12.00" height="5.20" fill="#f4f4f4" stroke="#555" stroke-width="0.8" />
<rect x="651.00" y="506.50" width="12.50" height="7.50" fill="#e8e8e8" stroke="#555" stroke-width="0.8" />
<rect x="651.00" y="524.30" width="12.50" height="7.50" fill="#e8e8e8" stroke="#555" stroke-width="0.8" />
<rect x="651.00" y="606.00" width="12.50" height="7.50" fill="#e8e8e8" stroke="#555" stroke-width="0.8" />
<rect x="892.80" y="205.00" width="9.60" height="188.00" fill="#c9c9c9" stroke="#555" stroke-width="0.8" />
<rect x="892.60" y="580.00" width="10.00" height="145.00" fill="#c9c9c9" stroke="#444" stroke-width="0.8" />
<line x1="902.60" y1="580.00" x2="902.60" y2="722.00" stroke="#1a1a1a" stroke-width="1.3" />
<rect x="891.80" y="388.50" width="12.70" height="8.00" fill="#f0f0f0" stroke="#555" stroke-width="0.8" />
<rect x="891.00" y="576.00" width="13.00" height="8.00" fill="#e8e8e8" stroke="#555" stroke-width="0.8" />
<line x1="902.50" y1="392.00" x2="902.50" y2="478.50" stroke="#2a2a2a" stroke-width="1.0" />
<line x1="906.40" y1="392.00" x2="906.40" y2="478.50" stroke="#2a2a2a" stroke-width="1.0" />
<line x1="902.50" y1="497.40" x2="902.50" y2="583.00" stroke="#2a2a2a" stroke-width="1.0" />
<line x1="906.40" y1="497.40" x2="906.40" y2="583.00" stroke="#2a2a2a" stroke-width="1.0" />
<rect x="651.80" y="354.40" width="13.00" height="13.60" fill="#8a7a72" stroke="#5a4d47" stroke-width="0.8" />
<rect x="894.60" y="353.80" width="14.60" height="14.60" fill="#8a7a72" stroke="#2b2522" stroke-width="1.2" />
<rect x="651.30" y="625.00" width="12.50" height="13.80" fill="#8a7a72" stroke="#5a4d47" stroke-width="0.8" />
<rect x="894.80" y="625.00" width="14.40" height="14.60" fill="#8a7a72" stroke="#2b2522" stroke-width="1.2" />
<circle cx="679.3" cy="523.3" r="9.8" fill="#8c8c8c" stroke="#444" stroke-width="1"/>
<rect x="207.50" y="371.30" width="21.30" height="2.20" fill="#fff" stroke="#333" stroke-width="0.8" />
<rect x="228.80" y="371.50" width="7.40" height="8.10" fill="#fff" stroke="#444" stroke-width="0.9" />
<rect x="232.20" y="375.80" width="7.40" height="8.10" fill="#fff" stroke="#444" stroke-width="0.9" />
<rect x="234.00" y="383.60" width="3.70" height="76.30" fill="#fff" stroke="#444" stroke-width="0.9" />
<rect x="228.40" y="463.60" width="7.40" height="8.10" fill="#fff" stroke="#444" stroke-width="0.9" />
<rect x="232.20" y="459.80" width="7.40" height="8.10" fill="#fff" stroke="#444" stroke-width="0.9" />
<line x1="239.60" y1="467.80" x2="331.30" y2="467.80" stroke="#333" stroke-width="1.1" />
<path d="M239.4,375.8 A93,93 0 0 1 331.3,467.5" fill="none" stroke="#333" stroke-width="0.9" />
<rect x="207.50" y="551.00" width="21.00" height="1.80" fill="#fff" stroke="#333" stroke-width="0.8" />
<line x1="212.00" y1="553.30" x2="222.50" y2="553.30" stroke="#1a1a1a" stroke-width="1.6" />
<rect x="228.40" y="550.60" width="7.40" height="8.10" fill="#fff" stroke="#444" stroke-width="0.9" />
<rect x="232.20" y="554.40" width="7.40" height="8.10" fill="#fff" stroke="#444" stroke-width="0.9" />
<rect x="234.00" y="562.50" width="3.70" height="76.50" fill="#fff" stroke="#444" stroke-width="0.9" />
<rect x="232.20" y="639.00" width="7.40" height="8.10" fill="#fff" stroke="#444" stroke-width="0.9" />
<rect x="228.40" y="642.90" width="7.40" height="8.10" fill="#fff" stroke="#444" stroke-width="0.9" />
<rect x="207.50" y="649.60" width="21.00" height="1.80" fill="#fff" stroke="#333" stroke-width="0.8" />
<line x1="239.60" y1="554.40" x2="331.80" y2="554.40" stroke="#333" stroke-width="1.1" />
<path d="M331.8,554.4 A93,93 0 0 1 239.5,647" fill="none" stroke="#333" stroke-width="0.9" />
<line x1="563.50" y1="424.20" x2="649.40" y2="424.20" stroke="#444" stroke-width="1.3" />
<path d="M563.5,424.2 A85.5,86 0 0 0 649,510.2" fill="none" stroke="#333" stroke-width="1.0" />
<line x1="564.30" y1="529.00" x2="649.40" y2="529.00" stroke="#444" stroke-width="1.3" />
<path d="M564.3,529 A85,85.5 0 0 0 649,614.5" fill="none" stroke="#333" stroke-width="1.0" />
<rect x="667.50" y="622.00" width="33.00" height="11.00" fill="#c9c9c9" stroke="#444" stroke-width="0.8" />
<rect x="692.50" y="620.50" width="8.00" height="14.00" fill="#e8e8e8" stroke="#555" stroke-width="0.8" />
<rect x="778.50" y="620.50" width="12.00" height="14.00" fill="#e8e8e8" stroke="#555" stroke-width="0.8" />
<rect x="700.50" y="618.80" width="78.00" height="4.00" fill="#fff" stroke="#555" stroke-width="0.8" />
<line x1="783.00" y1="536.50" x2="783.00" y2="619.00" stroke="#333" stroke-width="0.9" />
<path d="M783,536.5 A85,85 0 0 0 696.3,619.5" fill="none" stroke="#333" stroke-width="0.9" />
<rect x="906.40" y="478.50" width="82.20" height="4.00" fill="#fff" stroke="#333" stroke-width="0.9" />
<path d="M906.4,392.3 A82.2,86.2 0 0 1 988.6,478.5" fill="none" stroke="#333" stroke-width="1.0" />
<rect x="906.40" y="493.40" width="82.20" height="4.00" fill="#fff" stroke="#333" stroke-width="0.9" />
<path d="M988.6,497.4 A82.2,86.2 0 0 1 906.4,583.6" fill="none" stroke="#333" stroke-width="1.0" />
<rect x="1184.20" y="402.50" width="7.50" height="7.00" fill="#b4dcf6" stroke="#4d86ad" stroke-width="0.8" />
<rect x="1182.20" y="409.00" width="7.50" height="7.00" fill="#b4dcf6" stroke="#4d86ad" stroke-width="0.8" />
<rect x="1183.00" y="416.00" width="3.20" height="55.00" fill="#bcd4e3" stroke="#48687f" stroke-width="0.9" />
<rect x="1182.20" y="466.50" width="7.50" height="7.00" fill="#b4dcf6" stroke="#4d86ad" stroke-width="0.8" />
<rect x="1184.20" y="473.00" width="7.50" height="7.00" fill="#b4dcf6" stroke="#4d86ad" stroke-width="0.8" />
<line x1="1113.50" y1="476.30" x2="1183.00" y2="476.30" stroke="#333" stroke-width="0.9" />
<path d="M1182.5,407.5 A69,69 0 0 0 1113.5,476.3" fill="none" stroke="#333" stroke-width="0.9" />
<rect x="1184.20" y="543.80" width="7.50" height="7.00" fill="#b4dcf6" stroke="#4d86ad" stroke-width="0.8" />
<rect x="1182.20" y="550.00" width="7.50" height="7.00" fill="#b4dcf6" stroke="#4d86ad" stroke-width="0.8" />
<rect x="1183.00" y="557.00" width="3.20" height="54.00" fill="#bcd4e3" stroke="#48687f" stroke-width="0.9" />
<rect x="1182.20" y="606.00" width="7.50" height="7.00" fill="#b4dcf6" stroke="#4d86ad" stroke-width="0.8" />
<rect x="1184.20" y="613.50" width="7.50" height="7.00" fill="#b4dcf6" stroke="#4d86ad" stroke-width="0.8" />
<line x1="1113.80" y1="549.60" x2="1183.00" y2="549.60" stroke="#333" stroke-width="0.9" />
<path d="M1113.8,549.6 A69,69 0 0 0 1183,618.5" fill="none" stroke="#333" stroke-width="0.9" />
<line x1="1192.00" y1="404.30" x2="1206.00" y2="404.30" stroke="#444" stroke-width="1" />
<line x1="1192.00" y1="478.30" x2="1206.00" y2="478.30" stroke="#444" stroke-width="1" />
<line x1="1192.00" y1="546.50" x2="1206.00" y2="546.50" stroke="#444" stroke-width="1" />
<line x1="1192.00" y1="621.00" x2="1206.00" y2="621.00" stroke="#444" stroke-width="1" />
<path d="M667.5,424 V205.8 H891 V392" fill="none" stroke="#1a1a1a" stroke-width="1.2" />
<path d="M671.5,424 V209.5 H888.5 V391" fill="none" stroke="#1a1a1a" stroke-width="1.0" />
<path d="M675.5,424 V213.5 H884.5 V391" fill="none" stroke="#1a1a1a" stroke-width="1.0" />
<line x1="667.50" y1="424.00" x2="772.40" y2="424.00" stroke="#1a1a1a" stroke-width="1.1" />
<line x1="713.30" y1="206.50" x2="772.60" y2="310.30" stroke="#1a1a1a" stroke-width="1.25" />
<line x1="768.20" y1="206.50" x2="778.40" y2="310.00" stroke="#1a1a1a" stroke-width="1.25" />
<line x1="820.00" y1="206.50" x2="784.00" y2="310.00" stroke="#1a1a1a" stroke-width="1.25" />
<line x1="884.30" y1="205.80" x2="787.00" y2="316.70" stroke="#1a1a1a" stroke-width="1.25" />
<line x1="668.00" y1="233.30" x2="772.40" y2="323.50" stroke="#1a1a1a" stroke-width="1.25" />
<line x1="668.00" y1="285.00" x2="772.40" y2="340.00" stroke="#1a1a1a" stroke-width="1.25" />
<line x1="668.00" y1="323.20" x2="772.40" y2="356.30" stroke="#1a1a1a" stroke-width="1.25" />
<line x1="668.00" y1="359.00" x2="772.40" y2="377.00" stroke="#1a1a1a" stroke-width="1.25" />
<line x1="668.00" y1="391.80" x2="772.40" y2="400.30" stroke="#1a1a1a" stroke-width="1.25" />
<line x1="890.70" y1="263.90" x2="787.00" y2="332.20" stroke="#1a1a1a" stroke-width="1.25" />
<line x1="890.70" y1="306.30" x2="787.00" y2="349.00" stroke="#1a1a1a" stroke-width="1.25" />
<line x1="890.70" y1="342.20" x2="787.00" y2="368.90" stroke="#1a1a1a" stroke-width="1.25" />
<line x1="890.70" y1="376.00" x2="787.00" y2="391.00" stroke="#1a1a1a" stroke-width="1.25" />
<path d="M719.7,399 V298 C719.7,272 741,257.5 768,257.5 H792 C818,257.5 839,272 839,298 V392.5" fill="none" stroke="#1a1a1a" stroke-width="1.0" />
<path d="M714.4,398.8 H725.6 L719.9,424 Z" fill="#fff" stroke="#1a1a1a" stroke-width="0.9" />
<line x1="787.00" y1="400.30" x2="888.50" y2="391.80" stroke="#3b7592" stroke-width="1.8" />
<rect x="772.60" y="310.20" width="14.20" height="129.00" fill="#139a45" stroke="#0a3317" stroke-width="1.2" />
<rect x="544.60" y="227.50" width="2.00" height="100.00" fill="#9fb2bf" stroke="#6f8797" stroke-width="0.7" />
<rect x="548.20" y="205.00" width="1.80" height="30.00" fill="#9fb2bf" stroke="#6f8797" stroke-width="0.7" />
<rect x="548.00" y="315.00" width="2.00" height="102.00" fill="#9fb2bf" stroke="#6f8797" stroke-width="0.7" />
<path d="M549,205 V224 H650.6 V336" fill="none" stroke="#d6117c" stroke-width="2" />
<line x1="650.60" y1="336.00" x2="650.60" y2="416.00" stroke="#f08c1e" stroke-width="2" />
<line x1="549.00" y1="335.70" x2="649.50" y2="335.70" stroke="#444" stroke-width="0.9" />
<rect x="548.00" y="415.00" width="102.00" height="2.20" fill="#7f97a8" stroke="#4d6373" stroke-width="0.6" />
<path d="M581.3,225 V248 C581.3,262 590,271.3 599.8,271.3 C609.5,271.3 618.2,262 618.2,248 V225" fill="#fff" stroke="#444" stroke-width="0.8" />
<ellipse cx="599.8" cy="251.8" rx="13.4" ry="16" fill="#0a9fe5" stroke="#0b4f80" stroke-width="0.9"/>
<path d="M593.9,242.2 C593.9,239.6 596,238.8 599.9,238.8 C603.8,238.8 606,239.6 606,242.2 V244.6 A6.05,6 0 0 1 593.9,244.6 Z" fill="#fff" stroke="#0b4f80" stroke-width="0.9" />
<path d="M649.5,285.5 H634 C630,285.5 627.5,288 627.5,292 V320 C627.5,324.5 631,328 636,328 H649.5" fill="#fff" stroke="#444" stroke-width="0.8" />
<path d="M645,287.5 H634.5 C631.5,287.5 629.6,289.5 629.6,292.5 V319 C629.6,323 632.5,326 636.5,326 H645 Z" fill="#0a9fe5" stroke="#0b4f80" stroke-width="0.8" />
<line x1="645.00" y1="287.00" x2="645.00" y2="326.50" stroke="#12314a" stroke-width="1.3" />
<line x1="638.00" y1="307.00" x2="645.00" y2="307.00" stroke="#1d5d8a" stroke-width="2.2" />
<circle cx="647.3" cy="306.8" r="1.6" fill="#fff" stroke="#333" stroke-width="0.6"/>
<rect x="555.00" y="340.20" width="89.40" height="70.40" fill="#0a9fe5" stroke="#0b4f80" stroke-width="0.9" rx="5"/>
<circle cx="618.5" cy="375" r="10" fill="none" stroke="#0b4f80" stroke-width="0.9"/>
<line x1="628.50" y1="375.00" x2="649.00" y2="375.00" stroke="#0b4f80" stroke-width="0.9" />
<rect x="790.60" y="583.60" width="102.00" height="11.00" fill="#c9c9c9" stroke="#444" stroke-width="0.9" />
<rect x="790.60" y="594.60" width="9.80" height="39.40" fill="#c9c9c9" stroke="#444" stroke-width="0.9" />
<path d="M800.6,634 V594.8 H891.8 V713.7" fill="none" stroke="#f08c1e" stroke-width="2" />
<rect x="801.80" y="597.00" width="88.60" height="117.40" fill="#fff" stroke="#666" stroke-width="0.7" />
<rect x="807.50" y="600.80" width="78.50" height="106.50" fill="#0a9fe5" stroke="#0b4f80" stroke-width="0.9" rx="6"/>
<line x1="802.20" y1="634.50" x2="763.70" y2="704.00" stroke="#52c1d2" stroke-width="2.4" />
<line x1="801.70" y1="714.40" x2="892.60" y2="714.40" stroke="#52c1d2" stroke-width="2.2" />
<rect x="667.50" y="688.30" width="55.00" height="40.00" fill="#fff" stroke="#777" stroke-width="0.8" />
<line x1="667.30" y1="688.50" x2="667.30" y2="722.00" stroke="#d6117c" stroke-width="2" />
<rect x="75.20" y="-10.00" width="223.50" height="126.80" fill="none" stroke="#41789f" stroke-width="1.8" />
<path d="M116.6,57.9 L128.3,21.3 L130.9,21.3 L142.6,57.9 L139.8,57.9 L129.6,26 L119.4,57.9 Z" fill="#41789f" stroke="none" stroke-width="1" />
<path d="M163.9,21.3 V56.7 H180" fill="none" stroke="#41789f" stroke-width="2.7" />
<path d="M197.2,58 V22.6 H206.3 C212.3,22.6 215.4,26.6 215.4,31.6 C215.4,36.6 212.3,40.6 206.3,40.6 H197.2" fill="none" stroke="#41789f" stroke-width="2.7" />
<path d="M255.4,27.5 C253.6,23.6 249.8,21.9 245.3,21.9 C239.2,21.9 234.6,25.2 234.6,30.6 C234.6,35.8 238.8,37.8 245,39.3 C251.8,40.9 256.2,43 256.2,48.6 C256.2,54.2 251.4,57.6 245.2,57.6 C239.6,57.6 235.4,55 233.6,50.8" fill="none" stroke="#41789f" stroke-width="2.7" />
<path d="M145.5,-1 L149.5,3.6 L152.5,1.2 L150,-1 Z" fill="#2f6389" stroke="none" stroke-width="1" />
<path d="M228,-1 L224.5,3.6 L221,1.2 L223,-1 Z" fill="#2f6389" stroke="none" stroke-width="1" />
<text x="115.2" y="91.4" font-family="Liberation Sans, sans-serif" font-size="22.6" fill="#41789f" textLength="143" lengthAdjust="spacing">RESORTS</text>
<text x="551.5" y="145.2" font-family="Liberation Sans, sans-serif" font-size="50" fill="#161616" textLength="316" lengthAdjust="spacingAndGlyphs">Obergeschoss</text>
</svg>
</body></html>
